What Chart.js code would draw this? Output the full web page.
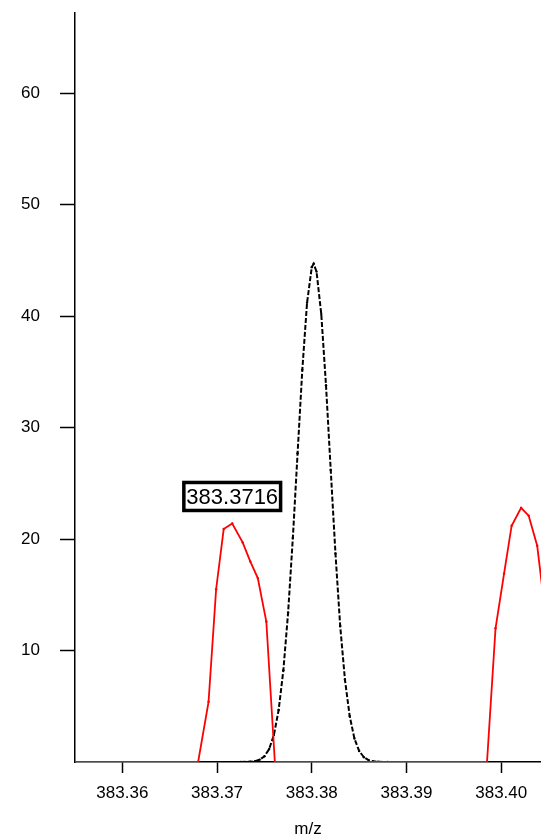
<!DOCTYPE html>
<html>
<head>
<meta charset="utf-8">
<script src="https://cdn.jsdelivr.net/npm/chart.js@4.4.1/dist/chart.umd.min.js"></script>
<style>
    html, body { margin: 0; padding: 0; background: #fff; }
    #wrap { width: 541px; height: 838px; position: relative; }
</style>
</head>
<body>
<div id="wrap"><canvas id="spectrum"></canvas></div>
<script>
(function() {
    'use strict';

    const xTicks = [383.36, 383.37, 383.38, 383.39, 383.40];
    const yTicks = [10, 20, 30, 40, 50, 60];

    // Perfil teorico (negro, discontinuo)
    const blackMz = [383.3725, 383.3735, 383.3740, 383.3745, 383.3750, 383.3755, 383.3760, 383.3765,
        383.3770, 383.3775, 383.3780, 383.3785, 383.3790, 383.3795, 383.3800, 383.3802, 383.3805,
        383.3810, 383.3815, 383.3820, 383.3825, 383.3830, 383.3835, 383.3840, 383.3845, 383.3850,
        383.3855, 383.3860, 383.3865, 383.3870, 383.3880];
    const blackIntensity = [0, 0.03, 0.08, 0.21, 0.51, 1.16, 2.43, 4.66,
        8.24, 13.4, 20.1, 27.7, 35.2, 41.2, 44.4, 44.7, 44.0,
        40.2, 33.8, 26.2, 18.7, 12.2, 7.39, 4.12, 2.11, 0.99,
        0.43, 0.17, 0.06, 0.02, 0];

    // Espectro medido (rojo)
    const redMz = [383.3540, 383.3680, 383.3691, 383.3699, 383.3707, 383.3716, 383.3727, 383.3735,
        383.3743, 383.3752, 383.3761, 383.3985, 383.3994, 383.4003, 383.4011, 383.4021, 383.4029,
        383.4038, 383.4047];
    const redIntensity = [0, 0, 5.4, 15.5, 20.9, 21.4, 19.7, 18.0,
        16.5, 12.6, 0, 0, 12.0, 16.9, 21.2, 22.8, 22.1,
        19.4, 13.0];

    const peakLabelMz = 383.3716;
    const peakLabelIntensity = 21.4;
    const peakLabelText = '383.3716';

    const FONT = '"Liberation Sans", Arial, Helvetica, sans-serif';

    function toPoints(xs, ys) {
        return xs.map((x, i) => ({ x: x, y: ys[i] }));
    }

    // Quitar el relleno automatico que Chart.js reserva para las etiquetas
    function noPadding(scale) {
        scale.paddingTop = 0;
        scale.paddingBottom = 0;
        scale.paddingLeft = 0;
        scale.paddingRight = 0;
    }

    // Etiqueta con recuadro sobre el pico
    const peakLabel = {
        id: 'peakLabel',
        afterDatasetsDraw(chart) {
            const ctx = chart.ctx;
            const px = chart.scales.x.getPixelForValue(peakLabelMz);
            const py = chart.scales.y.getPixelForValue(peakLabelIntensity) - 27;
            ctx.save();
            ctx.font = '22px ' + FONT;
            const w = ctx.measureText(peakLabelText).width + 5;
            const h = 28;
            ctx.fillStyle = '#fff';
            ctx.fillRect(px - w / 2, py - h / 2, w, h);
            ctx.lineWidth = 3.5;
            ctx.strokeStyle = '#000';
            ctx.strokeRect(px - w / 2, py - h / 2, w, h);
            ctx.fillStyle = '#000';
            ctx.textAlign = 'center';
            ctx.textBaseline = 'middle';
            ctx.fillText(peakLabelText, px, py + 1);
            ctx.restore();
        }
    };

    const ctx = document.getElementById('spectrum');
    new Chart(ctx, {
        type: 'line',
        data: {
            datasets: [{
                label: 'medido',
                data: toPoints(redMz, redIntensity),
                borderColor: '#ff0000',
                backgroundColor: '#ff0000',
                borderWidth: 1.8,
                pointRadius: 1.2,
                pointBorderWidth: 0,
                tension: 0,
                fill: false
            }, {
                label: 'teorico',
                data: toPoints(blackMz, blackIntensity),
                borderColor: '#000',
                backgroundColor: '#000',
                borderWidth: 2,
                borderDash: [5, 2],
                pointRadius: 1.2,
                pointBorderWidth: 0,
                tension: 0,
                fill: false
            }]
        },
        options: {
            responsive: true,
            maintainAspectRatio: false,
            animation: false,
            layout: {
                autoPadding: false,
                padding: { top: 13, right: 0, bottom: 0, left: 0 }
            },
            plugins: {
                legend: { display: false },
                tooltip: { enabled: false }
            },
            scales: {
                x: {
                    type: 'linear',
                    min: 383.355,
                    max: 383.4042,
                    afterBuildTicks: (scale) => { scale.ticks = xTicks.map(v => ({ value: v })); },
                    afterFit: (scale) => { scale.height = 76; noPadding(scale); },
                    border: { display: true, color: '#000', width: 1.5 },
                    grid: {
                        drawOnChartArea: false,
                        drawTicks: true,
                        tickLength: 11,
                        tickColor: '#000',
                        tickWidth: 1.5
                    },
                    ticks: {
                        color: '#000',
                        padding: 10,
                        maxRotation: 0,
                        font: { family: FONT, size: 17 },
                        callback: (v) => Number(v).toFixed(2)
                    },
                    title: {
                        display: true,
                        text: 'm/z',
                        color: '#000',
                        font: { family: FONT, size: 17, lineHeight: 1 },
                        padding: { top: 0, bottom: 0 }
                    }
                },
                y: {
                    type: 'linear',
                    min: 0,
                    max: 67.2,
                    afterBuildTicks: (scale) => { scale.ticks = yTicks.map(v => ({ value: v })); },
                    afterFit: (scale) => { scale.width = 75; noPadding(scale); },
                    border: { display: true, color: '#000', width: 1.5 },
                    grid: {
                        drawOnChartArea: false,
                        drawTicks: true,
                        tickLength: 15,
                        tickColor: '#000',
                        tickWidth: 1.5
                    },
                    ticks: {
                        color: '#000',
                        padding: 20,
                        font: { family: FONT, size: 17 }
                    }
                }
            }
        },
        plugins: [peakLabel]
    });
})();
</script>
</body>
</html>
